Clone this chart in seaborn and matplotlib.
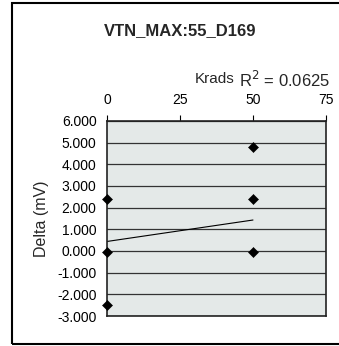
import pandas as pd
import seaborn as sns
import matplotlib.pyplot as plt
from matplotlib.patches import Rectangle

# data
krads = [0, 0, 0, 50, 50, 50]
delta = [2.40, -0.03, -2.47, 4.81, 2.39, -0.03]
trend_x = [0, 50]
trend_y = [0.44, 1.43]
y_ticks = [-3, -2, -1, 0, 1, 2, 3, 4, 5, 6]
x_ticks = [0, 25, 50, 75]

df = pd.DataFrame({'Krads': krads, 'Delta': delta})
trend = pd.DataFrame({'Krads': trend_x, 'Delta': trend_y})

sns.set_style('white')
plt.rcParams['font.family'] = ['Liberation Sans', 'DejaVu Sans']

fig = plt.figure(figsize=(3.39, 3.46), dpi=100)
ax = fig.add_axes([0.3156, 0.0867, 0.646, 0.5636])
ax.set_facecolor('#E4E9E8')

# outer chart border
fig.patches.append(Rectangle((12 / 339, 1 - 344 / 346), 1.0, 341 / 346,
                             transform=fig.transFigure, fill=False,
                             edgecolor='black', linewidth=1.5))

for v in y_ticks:
    ax.axhline(v, color='#333333', linewidth=0.9, zorder=1)

sns.lineplot(data=trend, x='Krads', y='Delta', ax=ax, color='black', linewidth=0.8, zorder=2)
sns.scatterplot(data=df, x='Krads', y='Delta', ax=ax, marker='D', color='black',
                s=26, edgecolor='black', zorder=3, clip_on=False)

ax.set_xlim(0, 75)
ax.set_ylim(-3, 6)
ax.set_xticks(x_ticks)
ax.set_yticks(y_ticks)
ax.set_yticklabels([f'{v:.3f}' for v in y_ticks])
ax.xaxis.tick_top()
ax.tick_params(axis='both', direction='out', length=4, width=0.8, colors='black',
               labelsize=10, pad=3.5)
ax.tick_params(axis='x', pad=6)
ax.xaxis.set_label_position('top')
ax.set_xlabel('')
ax.set_ylabel('Delta (mV)', fontsize=11.5, labelpad=6)

for s in ax.spines.values():
    s.set_visible(True)
    s.set_color('#222222')
    s.set_linewidth(1.2)

fig.text(0.532, 0.912, 'VTN_MAX:55_D169', ha='center', va='center', fontsize=12, fontweight='bold')
fig.text(0.632, 0.772, 'Krads', ha='center', va='center', fontsize=11)
fig.text(0.838, 0.770, r'R$^2$ = 0.0625', ha='center', va='center', fontsize=12)

fig.savefig('out.png', dpi=100)
